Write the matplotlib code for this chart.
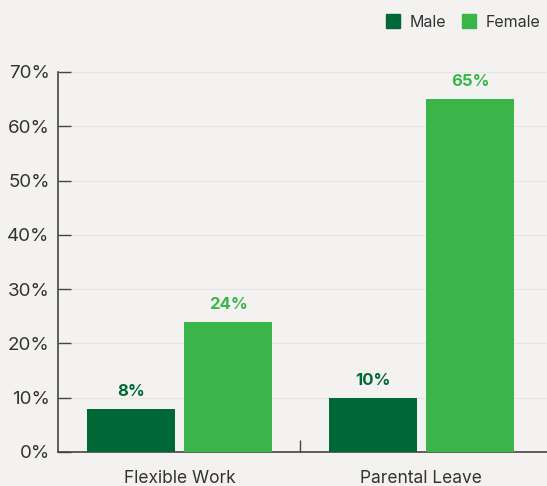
import matplotlib
matplotlib.use("Agg")
import matplotlib.pyplot as plt
import numpy as np
from matplotlib.patches import Patch

categories = ["Flexible Work", "Parental Leave"]
male = [8, 10]
female = [24, 65]
yticks = [0, 10, 20, 30, 40, 50, 60, 70]

bg = "#f3f2f0"
c_male = "#006837"
c_female = "#3bb54a"
text_c = "#333333"

plt.rcParams["font.family"] = ["Inter", "DejaVu Sans"]

fig = plt.figure(figsize=(5.47, 4.86), dpi=100, facecolor=bg)
ax = fig.add_axes([0.106, 0.07, 0.894, 0.782], facecolor=bg)

x = np.arange(len(categories))
w = 0.364
off = 0.201
ax.bar(x - off, male, width=w, color=c_male, zorder=3)
ax.bar(x + off, female, width=w, color=c_female, zorder=3)

for xi, m, f in zip(x, male, female):
    ax.text(xi - off, m + 1.8, f"{m}%", ha="center", va="bottom",
            color=c_male, fontsize=12, fontweight="bold")
    ax.text(xi + off, f + 1.8, f"{f}%", ha="center", va="bottom",
            color=c_female, fontsize=12, fontweight="bold")

ax.set_xlim(-0.502, 1.519)
ax.set_ylim(0, 70)
ax.set_yticks(yticks)
ax.set_yticklabels([f"{t}%" for t in yticks], fontsize=13.5, color=text_c)
ax.yaxis.grid(True, color="#e6e5e3", linewidth=0.8, zorder=0)

ax.set_xticks(x)
ax.set_xticklabels(categories, fontsize=12.5, color=text_c)
ax.tick_params(axis="x", length=0, pad=13)
ax.set_xticks([0.5], minor=True)
ax.tick_params(axis="x", which="minor", direction="in", length=9, color="#444444", width=1)
ax.tick_params(axis="y", direction="in", length=9, color="#444444", width=1, pad=6)

for s in ["top", "right"]:
    ax.spines[s].set_visible(False)
for s in ["left", "bottom"]:
    ax.spines[s].set_color("#444444")
    ax.spines[s].set_linewidth(1.2)

handles = [Patch(color=c_male, label="Male"), Patch(color=c_female, label="Female")]
fig.legend(handles=handles, loc="upper right", bbox_to_anchor=(1.015, 1.0), ncol=2,
           frameon=False, fontsize=11.5, handlelength=0.9, handleheight=0.9,
           handletextpad=0.6, columnspacing=1.0, labelcolor=text_c)

fig.savefig("out.png", dpi=100, facecolor=bg)
